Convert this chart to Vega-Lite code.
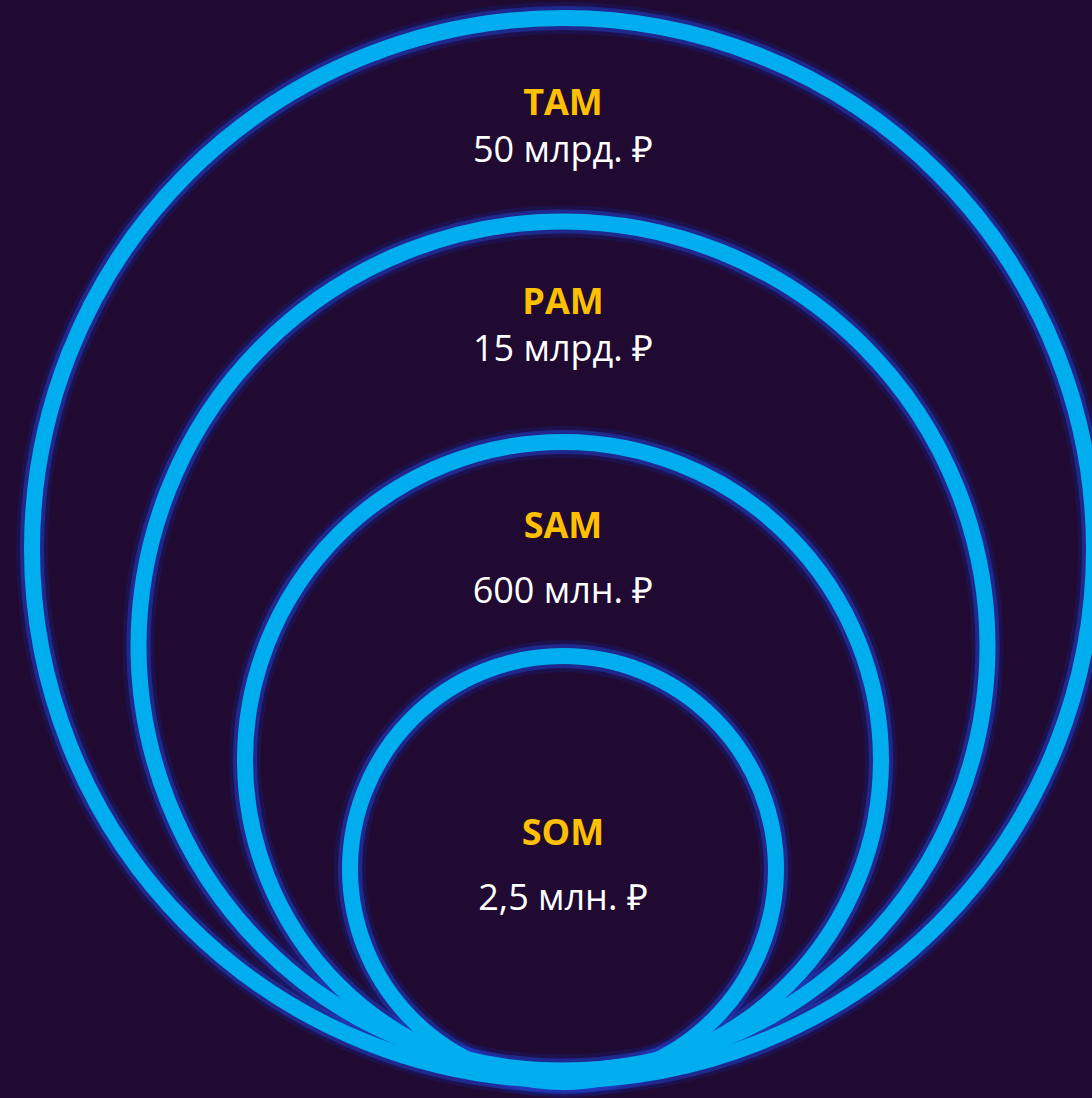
{
  "$schema": "https://vega.github.io/schema/vega-lite/v6.json",
  "autosize": "none",
  "width": 1058,
  "height": 1098,
  "padding": {"left": 34, "top": 0, "right": 0, "bottom": 0},
  "background": "#200a31",
  "config": {"view": {"stroke": null}},
  "data": {
    "values": [
      {"market": "TAM", "value": "50 млрд. ₽", "tier": 1},
      {"market": "PAM", "value": "15 млрд. ₽", "tier": 2},
      {"market": "SAM", "value": "600 млн. ₽", "tier": 3},
      {"market": "SOM", "value": "2,5 млн. ₽", "tier": 4}
    ]
  },
  "layer": [
    {
      "mark": {"type": "point", "shape": "circle", "filled": false, "stroke": "#1a2696", "strokeWidth": 32, "strokeOpacity": 0.4},
      "encoding": {
        "y": {"field": "tier", "type": "quantitative", "axis": null, "scale": {"domain": [1, 2, 3, 4], "range": [549, 646, 760, 869], "nice": false, "zero": false}},
        "size": {"field": "tier", "type": "quantitative", "legend": null, "scale": {"domain": [1, 2, 3, 4], "range": [1127844, 720801, 404496, 181476], "zero": false, "nice": false}}
      }
    },
    {
      "mark": {"type": "point", "shape": "circle", "filled": false, "stroke": "#2340c8", "strokeWidth": 24, "strokeOpacity": 0.75},
      "encoding": {
        "y": {"field": "tier", "type": "quantitative", "axis": null, "scale": {"domain": [1, 2, 3, 4], "range": [549, 646, 760, 869], "nice": false, "zero": false}},
        "size": {"field": "tier", "type": "quantitative", "legend": null, "scale": {"domain": [1, 2, 3, 4], "range": [1127844, 720801, 404496, 181476], "zero": false, "nice": false}}
      }
    },
    {
      "mark": {"type": "point", "shape": "circle", "filled": false, "stroke": "#00aeef", "strokeWidth": 16, "opacity": 1, "strokeOpacity": 1},
      "encoding": {
        "y": {"field": "tier", "type": "quantitative", "axis": null, "scale": {"domain": [1, 2, 3, 4], "range": [549, 646, 760, 869], "nice": false, "zero": false}},
        "size": {"field": "tier", "type": "quantitative", "legend": null, "scale": {"domain": [1, 2, 3, 4], "range": [1127844, 720801, 404496, 181476], "zero": false, "nice": false}}
      }
    },
    {
      "mark": {"type": "text", "font": "Open Sans", "fontSize": 36, "fontWeight": "bold", "color": "#ffc000", "baseline": "alphabetic", "align": "center"},
      "encoding": {
        "y": {"field": "tier", "type": "quantitative", "axis": null, "scale": {"domain": [1, 2, 3, 4], "range": [115, 314, 538, 845], "nice": false, "zero": false}},
        "text": {"field": "market", "type": "nominal"}
      }
    },
    {
      "mark": {"type": "text", "font": "Open Sans", "fontSize": 36, "color": "#ffffff", "baseline": "alphabetic", "align": "center"},
      "encoding": {
        "y": {"field": "tier", "type": "quantitative", "axis": null, "scale": {"domain": [1, 2, 3, 4], "range": [162, 361, 603, 910], "nice": false, "zero": false}},
        "text": {"field": "value", "type": "nominal"}
      }
    }
  ],
  "resolve": {"scale": {"y": "independent"}}
}
